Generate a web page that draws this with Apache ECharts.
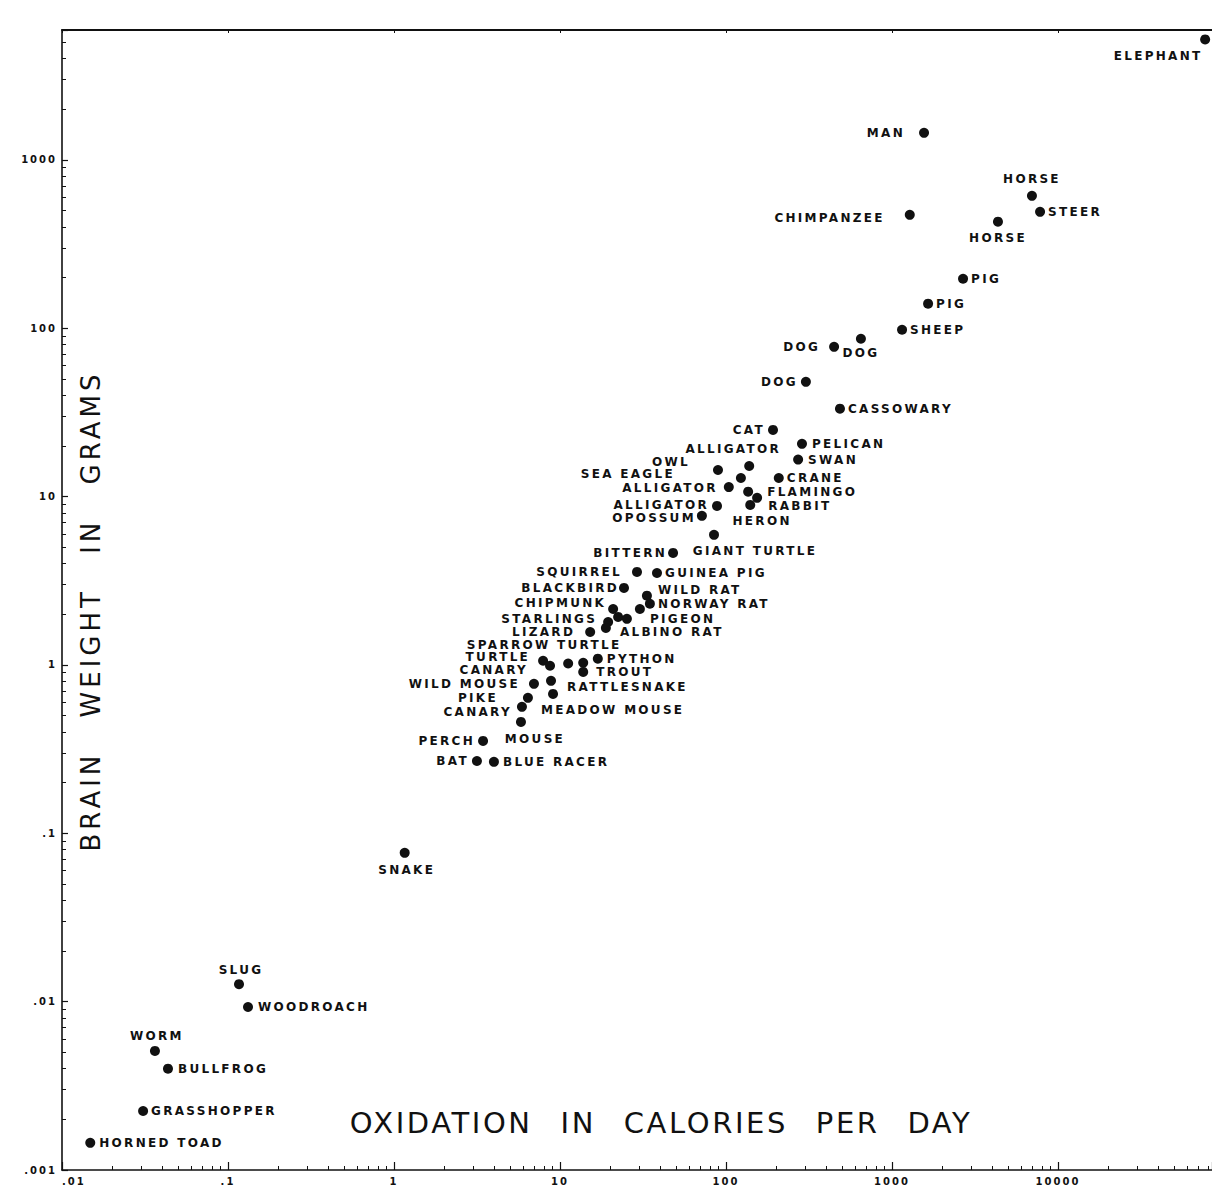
<!DOCTYPE html>
<html><head><meta charset="utf-8">
<script src="https://cdn.jsdelivr.net/npm/echarts@6/dist/echarts.min.js"></script>
<style>html,body{margin:0;padding:0;background:#fff}#c{width:1212px;height:1191px}</style>
</head><body><div id="c"></div>
<script>
// ---- data ----
const animals = ['ELEPHANT','MAN','CHIMPANZEE','HORSE','STEER','HORSE','PIG','PIG','SHEEP','DOG','DOG','DOG',
  'CASSOWARY','CAT','PELICAN','SWAN','CRANE','ALLIGATOR','OWL','SEA EAGLE','ALLIGATOR','ALLIGATOR',
  'FLAMINGO','HERON','RABBIT','OPOSSUM','GIANT TURTLE','BITTERN','SQUIRREL','GUINEA PIG','BLACKBIRD',
  'WILD RAT','NORWAY RAT','','CHIPMUNK','STARLINGS','','PIGEON','LIZARD','ALBINO RAT',
  'TURTLE','CANARY','SPARROW TURTLE','','TROUT','PYTHON','WILD MOUSE','RATTLESNAKE','MEADOW MOUSE',
  'PIKE','CANARY','MOUSE','PERCH','BAT','BLUE RACER','SNAKE','SLUG','WOODROACH','WORM','BULLFROG',
  'GRASSHOPPER','HORNED TOAD'];
const calories = [77000,1560,1280,6970,7800,4350,2680,1650,1150,448,650,303,
  486,192,287,272,208,138,89.5,123,104,88.3,
  136,154,140,71.6,84.7,48.0,29.1,38.4,24.3,
  33.4,34.8,30.3,20.9,19.5,22.4,25.3,15.2,18.9,
  7.91,8.71,11.2,13.8,13.8,16.9,6.97,8.83,9.08,
  6.41,5.90,5.82,3.44,3.16,4.00,1.16,0.1165,0.132,0.0363,0.0435,
  0.0308,0.0148];
const brainGrams = [5200,1450,472,612,492,430,197,140,98,77.6,86.7,48.1,
  33.3,24.9,20.6,16.6,12.9,15.2,14.4,12.9,11.4,8.81,
  10.7,9.84,8.93,7.69,5.93,4.63,3.57,3.52,2.87,
  2.58,2.31,2.15,2.15,1.80,1.93,1.88,1.57,1.66,
  1.06,0.99,1.02,1.03,0.91,1.09,0.773,0.805,0.673,
  0.638,0.564,0.459,0.354,0.269,0.266,0.0766,0.0127,0.0093,0.0051,0.0040,
  0.00224,0.00145];
const xTickLabels = ['.01','.1','1','10','100','1000','10000'];
const yTickLabels = ['.001','.01','.1','1','10','100','1000'];
const xTitle = 'OXIDATION IN CALORIES PER DAY';
const yTitle = 'BRAIN WEIGHT IN GRAMS';

// ---- label placement (layout only): [side, dx, dy] ----
const labelPlace = [
  ['bottom',-47,3],['left',-11,0],['left',-17,3],['top',0,-3],['right',0,0],['bottom',0,2],
  ['right',0,0],['right',0,0],['right',0,0],['left',-6,0],['bottom',0,0],['left',0,0],
  ['right',0,0],['left',0,0],['right',2,0],['right',2,0],['right',0,0],['top',-16,-3],
  ['left',-20,-8],['left',-58,-4],['left',-3,1],['left',0,-1],
  ['right',11,0],['bottom',5,9],['right',10,1],['left',2,2],['bottom',41,2],['left',2,0],
  ['left',-7,0],['right',0,0],['left',3,0],
  ['right',3,-6],['right',0,0],['right',0,0],['left',1,-6],['left',-3,-3],['right',0,0],
  ['right',15,0],['left',-7,0],['right',6,4],
  ['left',-5,-4],['left',-14,4],['top',-24,-5],['right',0,0],['right',5,0],['right',1,0],
  ['left',-6,0],['right',8,6],['right',-20,16],
  ['left',-22,0],['left',-2,5],['bottom',14,3],['left',0,0],['left',0,0],['right',1,0],
  ['bottom',2,3],['top',2,0],['right',2,0],['top',2,-1],['right',2,0],['right',0,0],['right',1,0]
];

const ink = '#111111';
function tickLabel(labels, offset) {
  return function (v) {
    const k = Math.round(Math.log10(v));
    if (Math.abs(Math.log10(v) - k) > 1e-6) return '';
    return labels[k + offset] || '';
  };
}

const points = animals.map(function (n, i) {
  return {
    name: n,
    value: [calories[i], brainGrams[i]],
    label: { show: n !== '', position: labelPlace[i][0] }
  };
});

const chart = echarts.init(document.getElementById('c'), null, { renderer: 'svg' });
chart.setOption({
  backgroundColor: '#ffffff',
  animation: false,
  grid: { left: 62, right: 0, top: 30, bottom: 21, containLabel: false, outerBoundsMode: 'none' },
  xAxis: [{
    type: 'log', logBase: 10, min: 0.01, max: 84700, splitNumber: 7,
    name: xTitle, nameLocation: 'middle', nameGap: -62,
    nameTextStyle: { fontFamily: 'DejaVu Sans', fontSize: 29, color: ink, padding: [0, 0, 0, 48] },
    axisLine: { lineStyle: { color: ink, width: 1.6 } },
    axisTick: { inside: true, length: 8, lineStyle: { color: ink, width: 1.2 } },
    minorTick: { show: true, splitNumber: 9, length: 4, lineStyle: { color: ink, width: 1 } },
    splitLine: { show: false },
    axisLabel: { formatter: tickLabel(xTickLabels, 2), fontFamily: 'DejaVu Sans', fontSize: 10, fontWeight: 'bold',
      color: ink, margin: 6, showMaxLabel: false, alignMinLabel: 'left' }
  }, {
    type: 'log', logBase: 10, min: 0.01, max: 84700, splitNumber: 7, position: 'top',
    axisLine: { lineStyle: { color: ink, width: 2 } },
    axisTick: { inside: true, length: 3, lineStyle: { color: ink } },
    axisLabel: { show: false }, splitLine: { show: false }
  }],
  yAxis: {
    type: 'log', logBase: 10, min: 0.001, max: 5916, splitNumber: 7,
    name: yTitle, nameLocation: 'middle', nameGap: -42, nameRotate: 90,
    nameTextStyle: { fontFamily: 'DejaVu Sans', fontSize: 26, color: ink, padding: [0, 22, 0, 0] },
    axisLine: { lineStyle: { color: ink, width: 1.6 } },
    axisTick: { inside: true, length: 6, lineStyle: { color: ink, width: 1.2 } },
    minorTick: { show: true, splitNumber: 9, length: 4, lineStyle: { color: ink, width: 1 } },
    splitLine: { show: false },
    axisLabel: { formatter: tickLabel(yTickLabels, 3), fontFamily: 'DejaVu Sans', fontSize: 10, fontWeight: 'bold',
      color: ink, margin: 5, showMaxLabel: false }
  },
  series: [{
    type: 'scatter',
    xAxisIndex: 0,
    symbol: 'circle',
    symbolSize: 10,
    itemStyle: { color: ink, opacity: 1 },
    label: {
      show: true, formatter: '{b}', distance: 3,
      fontFamily: 'DejaVu Sans', fontWeight: 'bold', fontSize: 12, color: ink
    },
    labelLayout: function (p) {
      const L = labelPlace[p.dataIndex];
      return { dx: L[1], dy: L[2], hideOverlap: false };
    },
    data: points
  }]
});

// letter spacing to imitate the wide hand lettering
function spaceTexts() {
  const tickSet = new Set(xTickLabels.concat(yTickLabels));
  const nameSet = new Set(animals);
  document.querySelectorAll('#c svg text').forEach(function (t) {
    const s = t.textContent;
    if (s === xTitle) { t.setAttribute('letter-spacing', '2.6'); t.setAttribute('word-spacing', '16'); }
    else if (s === yTitle) { t.setAttribute('letter-spacing', '4'); t.setAttribute('word-spacing', '22'); }
    else if (tickSet.has(s)) { t.setAttribute('letter-spacing', '2'); }
    else if (nameSet.has(s)) { t.setAttribute('letter-spacing', '2.3'); }
  });
}
chart.on('finished', spaceTexts);
spaceTexts();
setTimeout(spaceTexts, 0);
setTimeout(spaceTexts, 200);
</script></body></html>
